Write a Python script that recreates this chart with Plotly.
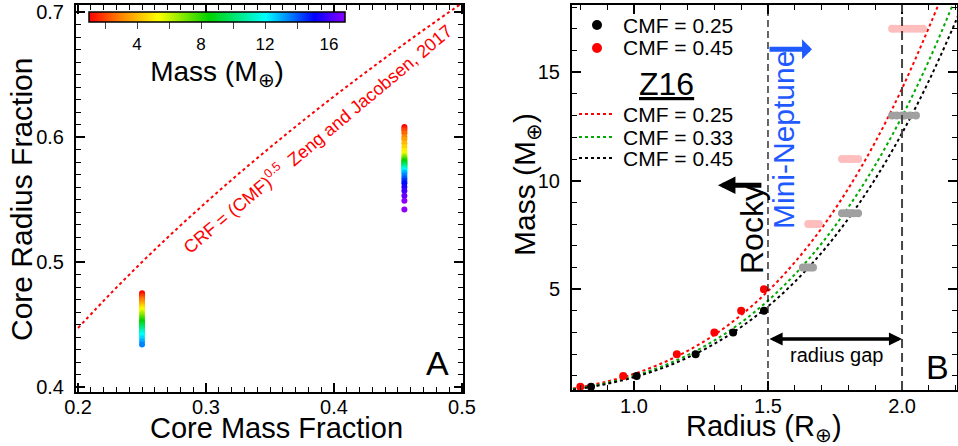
import plotly.graph_objects as go

# ---------------- Panel A data ----------------
cmf_low = 0.25
mass_low = [1, 1.5, 2, 2.5, 3, 3.5, 4, 4.5, 5, 5.5, 6, 6.5, 7, 7.5, 8, 8.5, 9, 9.5,
            10, 10.5, 11, 11.5, 12, 12.5, 13, 13.5]
crf_low = [0.475, 0.4735, 0.472, 0.4705, 0.469, 0.467, 0.4655, 0.464, 0.4625, 0.461,
           0.4595, 0.458, 0.4565, 0.455, 0.4535, 0.452, 0.4505, 0.449, 0.4475, 0.446,
           0.4445, 0.443, 0.4415, 0.439, 0.4365, 0.434]

cmf_high = 0.455
mass_high = [1, 1.5, 2, 2.5, 3, 3.5, 4, 4.5, 5, 5.5, 6, 6.5, 7, 7.5, 8, 8.5, 9, 9.5,
             10, 10.5, 11, 11.5, 12, 12.5, 13, 13.5, 14, 14.5, 15, 15.5, 16, 16.5, 17, 17]
crf_high = [0.608, 0.6065, 0.605, 0.603, 0.600, 0.598, 0.595, 0.592, 0.589, 0.587,
            0.585, 0.584, 0.583, 0.582, 0.581, 0.580, 0.579, 0.578, 0.577, 0.576,
            0.575, 0.574, 0.573, 0.572, 0.571, 0.569, 0.567, 0.565, 0.563, 0.560,
            0.557, 0.553, 0.549, 0.542]

zj_cmf = [0.20, 0.225, 0.25, 0.275, 0.30, 0.325, 0.35, 0.375, 0.40, 0.425, 0.45, 0.475, 0.50]
zj_crf = [0.4472, 0.4743, 0.5000, 0.5244, 0.5477, 0.5701, 0.5916, 0.6124, 0.6325,
          0.6519, 0.6708, 0.6892, 0.7071]

# ---------------- Panel B data ----------------
r_cmf25 = [0.84, 1.01, 1.23, 1.37, 1.485]
m_cmf25 = [0.5, 1, 2, 3, 4]
r_cmf45 = [0.80, 0.96, 1.16, 1.30, 1.40, 1.485]
m_cmf45 = [0.5, 1, 2, 3, 4, 5]

# lighter (beyond rocky limit) spreads
r_gray = [1.63, 1.64, 1.65, 1.66, 1.668,
          1.776, 1.79, 1.80, 1.81, 1.82, 1.836,
          1.963, 1.98, 2.00, 2.01, 2.03, 2.052]
m_gray = [6, 6, 6, 6, 6,
          8.5, 8.5, 8.5, 8.5, 8.5, 8.5,
          13, 13, 13, 13, 13, 13]
r_pink = [1.65, 1.66, 1.67, 1.68, 1.69,
          1.776, 1.79, 1.80, 1.81, 1.82, 1.836,
          1.963, 1.975, 1.99, 2.005, 2.02, 2.035, 2.05, 2.065, 2.078]
m_pink = [8, 8, 8, 8, 8,
          11, 11, 11, 11, 11, 11,
          17, 17, 17, 17, 17, 17, 17, 17, 17]

z16_r = [0.75, 0.8, 0.9, 1.0, 1.1, 1.2, 1.3, 1.4, 1.5, 1.6, 1.7, 1.8, 1.9, 2.0, 2.1, 2.2, 2.25]
z16_m_red = [0.378, 0.480, 0.742, 1.096, 1.560, 2.152, 2.894, 3.807, 4.91, 6.239, 7.807,
             9.646, 11.78, 14.25, 17.06, 20.1, 21.8]
z16_m_green = [0.344, 0.437, 0.675, 0.997, 1.419, 1.958, 2.633, 3.464, 4.472, 5.678, 7.104,
               8.779, 10.72, 12.96, 15.53, 18.44, 20.0]
z16_m_black = [0.3235, 0.4107, 0.635, 0.938, 1.334, 1.841, 2.476, 3.257, 4.205, 5.338, 6.680,
               8.253, 10.08, 12.19, 14.60, 17.34, 18.85]

gap_edges = [1.5, 2.0]

FONT = "Liberation Sans, Arial, Helvetica, sans-serif"
W, H = 958, 446


def px(x):
    return x / W


def py(y):
    return 1 - y / H


colorscale = [[0.0, "rgb(255,0,0)"], [0.12, "rgb(255,128,0)"], [0.27, "rgb(255,255,0)"],
              [0.47, "rgb(0,210,0)"], [0.69, "rgb(0,255,255)"], [0.88, "rgb(0,0,255)"],
              [1.0, "rgb(140,0,255)"]]

fig = go.Figure()

fig.add_trace(go.Scatter(
    x=zj_cmf, y=zj_crf, mode="lines", line=dict(color="red", width=2, dash="dot", shape="spline"),
    xaxis="x", yaxis="y", showlegend=False, hoverinfo="skip"))

all_cmf = [cmf_low] * len(mass_low) + [cmf_high] * len(mass_high)
all_crf = crf_low + crf_high
all_mass = mass_low + mass_high
fig.add_trace(go.Scatter(
    x=all_cmf, y=all_crf, mode="markers", xaxis="x", yaxis="y", showlegend=False,
    marker=dict(size=6, color=all_mass, colorscale=colorscale, cmin=1, cmax=17,
                line=dict(width=0),
                colorbar=dict(orientation="h", x=px(217), xanchor="center", y=py(12),
                              yanchor="top", len=256 / W, lenmode="fraction",
                              thickness=10, xpad=0, ypad=0,
                              outlinecolor="black", outlinewidth=1.5,
                              ticks="outside", ticklen=7, tickcolor="#444",
                              tickvals=[2, 4, 6, 8, 10, 12, 14, 16],
                              ticktext=["", "4", "", "8", "", "12", "", "16"],
                              tickfont=dict(size=17, color="black", family=FONT),
                              title=dict(text="Mass (M<sub>⊕</sub>)", side="bottom",
                                         font=dict(size=28, color="black", family=FONT))))))

# Panel B curves
for mm, col in [(z16_m_red, "red"), (z16_m_green, "rgb(0,170,0)"), (z16_m_black, "black")]:
    fig.add_trace(go.Scatter(x=z16_r, y=mm, mode="lines", xaxis="x2", yaxis="y2",
                             line=dict(color=col, width=2, dash="dot", shape="spline"),
                             showlegend=False, hoverinfo="skip"))

fig.add_trace(go.Scatter(x=r_gray, y=m_gray, mode="markers", xaxis="x2", yaxis="y2",
                         marker=dict(size=8, color="rgb(160,160,160)"), showlegend=False))
fig.add_trace(go.Scatter(x=r_pink, y=m_pink, mode="markers", xaxis="x2", yaxis="y2",
                         marker=dict(size=8, color="rgb(255,190,190)"), showlegend=False))
fig.add_trace(go.Scatter(x=r_cmf25, y=m_cmf25, mode="markers", xaxis="x2", yaxis="y2",
                         marker=dict(size=8, color="black"), showlegend=False))
fig.add_trace(go.Scatter(x=r_cmf45, y=m_cmf45, mode="markers", xaxis="x2", yaxis="y2",
                         marker=dict(size=8, color="red"), showlegend=False))

axis_common = dict(showline=True, linewidth=2, linecolor="black", mirror="ticks",
                   ticks="inside", ticklen=9, tickwidth=1.5, tickcolor="black",
                   showgrid=False, zeroline=False, automargin=False,
                   tickfont=dict(size=20, color="black", family=FONT))

fig.update_layout(
    template="none",
    width=W, height=H, margin=dict(l=0, r=0, t=0, b=0, autoexpand=False),
    paper_bgcolor="white", plot_bgcolor="white",
    font=dict(family=FONT, color="black"),
    xaxis=dict(domain=[px(76), px(463)], range=[0.1984, 0.5008],
               tickvals=[0.2, 0.3, 0.4, 0.5], ticktext=["0.2", "0.3", "0.4", "0.5"],
               minor=dict(ticks="inside", dtick=0.01, tick0=0.2, ticklen=5, tickwidth=1,
                          tickcolor="black"),
               ticklabelstandoff=-4, anchor="y", **axis_common),
    yaxis=dict(domain=[py(392), py(5)], range=[0.396, 0.7056],
               tickvals=[0.4, 0.5, 0.6, 0.7], ticktext=["0.4", "0.5", "0.6", "0.7"],
               minor=dict(ticks="inside", dtick=0.01, tick0=0.4, ticklen=5, tickwidth=1,
                          tickcolor="black"),
               ticklabelstandoff=6, anchor="x", **axis_common),
    xaxis2=dict(domain=[px(572), px(957)], range=[0.769, 2.205],
                tickvals=[1.0, 1.5, 2.0], ticktext=["1.0", "1.5", "2.0"],
                minor=dict(ticks="inside", dtick=0.1, tick0=0, ticklen=5, tickwidth=1,
                           tickcolor="black"),
                ticklabelstandoff=-3, anchor="y2", **axis_common),
    yaxis2=dict(domain=[py(390), py(5)], range=[0.35, 18.1],
                tickvals=[5, 10, 15], ticktext=["5", "10", "15"],
                minor=dict(ticks="inside", dtick=1, tick0=0, ticklen=5, tickwidth=1,
                           tickcolor="black"),
                ticklabelstandoff=6, anchor="x2", **axis_common),
)

shapes = []
# radius gap boundaries
shapes.append(dict(type="line", xref="x2", yref="y2 domain", x0=gap_edges[0], x1=gap_edges[0],
                   y0=0, y1=1, line=dict(color="black", width=1.2, dash="7px,4px")))
shapes.append(dict(type="line", xref="x2", yref="y2 domain", x0=gap_edges[1], x1=gap_edges[1],
                   y0=0, y1=1, line=dict(color="rgb(70,70,70)", width=2, dash="9px,5px")))
# manual legend symbols
for cy, col in [(25, "black"), (48, "red")]:
    shapes.append(dict(type="circle", xref="paper", yref="paper",
                       x0=px(592), x1=px(602), y0=py(cy + 5), y1=py(cy - 5),
                       fillcolor=col, line=dict(color=col, width=0)))
for cy, col in [(114, "red"), (137, "rgb(0,170,0)"), (158, "black")]:
    shapes.append(dict(type="line", xref="paper", yref="paper",
                       x0=px(579), x1=px(613), y0=py(cy), y1=py(cy),
                       line=dict(color=col, width=2, dash="dot")))

ann = []


def txt(text, x, y, size, color="black", angle=0, xanchor="center", yanchor="middle",
        xref="paper", yref="paper"):
    ann.append(dict(text=text, x=x, y=y, xref=xref, yref=yref, showarrow=False,
                    textangle=angle, xanchor=xanchor, yanchor=yanchor,
                    font=dict(size=size, color=color, family=FONT)))


txt("Core Radius Fraction", px(22), py(200), 30, angle=-90)
txt("Core Mass Fraction", px(276), py(428), 29)
txt("A", px(437), py(363), 34)
txt("CRF = (CMF)<sup>0.5</sup>&nbsp;&nbsp;Zeng and Jacobsen, 2017", 0.3867, 0.599, 18,
    color="red", angle=-40, xref="x", yref="y")

txt("Mass (M<sub>⊕</sub>)", px(526), py(185), 30, angle=-90)
txt("Radius (R<sub>⊕</sub>)", px(764), py(428), 29)
txt("B", px(937), py(367), 34)
txt("Rocky", px(752), py(230), 32, angle=-90)
txt("Mini-Neptune", px(783), py(140), 30, color="rgb(30,90,255)", angle=-90)
txt("radius gap", px(836), py(355), 20)

# legend text
for cy, t in [(25, "CMF = 0.25"), (48, "CMF = 0.45"), (114, "CMF = 0.25"),
              (137, "CMF = 0.33"), (158, "CMF = 0.45")]:
    txt(t, px(621), py(cy), 21, xanchor="left")
txt("<u>Z16</u>", px(666), py(84), 32)

# arrows
ann.append(dict(x=1.3134, y=9.79, ax=1.481, ay=9.79, xref="x2", yref="y2", axref="x2",
                ayref="y2", text="", showarrow=True, arrowhead=2, arrowsize=0.7,
                arrowwidth=5, arrowcolor="black"))
ann.append(dict(x=1.664, y=16.06, ax=1.5, ay=16.06, xref="x2", yref="y2", axref="x2",
                ayref="y2", text="", showarrow=True, arrowhead=1, arrowsize=0.66,
                arrowwidth=5, arrowcolor="rgb(30,90,255)"))
ann.append(dict(x=gap_edges[1], y=2.7, ax=gap_edges[0], ay=2.7, xref="x2", yref="y2",
                axref="x2", ayref="y2", text="", showarrow=True, arrowhead=2,
                arrowside="end+start", arrowsize=0.75, arrowwidth=3.5, arrowcolor="black"))

fig.update_layout(shapes=shapes, annotations=ann)
fig.write_html("out.html")
